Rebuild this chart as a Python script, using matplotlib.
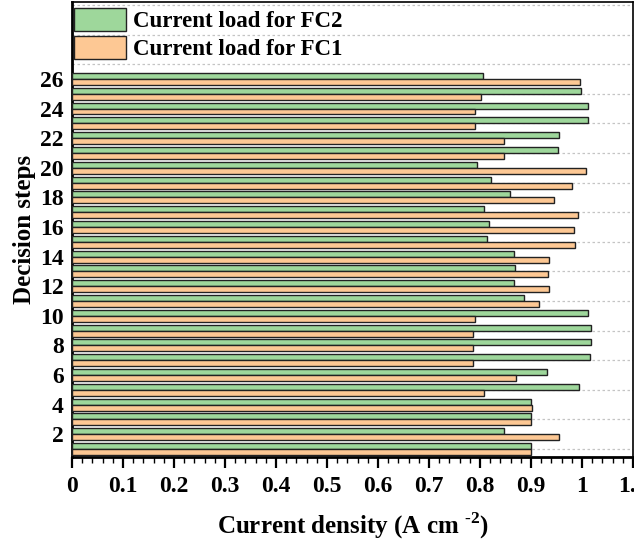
import matplotlib.pyplot as plt
import numpy as np

# decision steps 1..26 (bottom to top)
steps = np.arange(1, 27)
fc2_load = [0.900, 0.848, 0.900, 0.900, 0.995, 0.932, 1.015, 1.017, 1.017, 1.012,
            0.886, 0.866, 0.869, 0.866, 0.814, 0.818, 0.808, 0.858, 0.821, 0.794,
            0.953, 0.954, 1.012, 1.012, 0.999, 0.805]
fc1_load = [0.900, 0.954, 0.900, 0.902, 0.807, 0.870, 0.787, 0.786, 0.786, 0.790,
            0.916, 0.936, 0.934, 0.936, 0.987, 0.985, 0.993, 0.945, 0.981, 1.007,
            0.847, 0.847, 0.790, 0.790, 0.802, 0.996]
ytick_vals = np.arange(2, 27, 2)
xtick_vals = np.round(np.arange(0, 1.11, 0.1), 1)
xtick_labels = ["0", "0.1", "0.2", "0.3", "0.4", "0.5", "0.6", "0.7", "0.8", "0.9", "1", "1.1"]

plt.rcParams['font.family'] = 'Liberation Serif'
plt.rcParams['font.weight'] = 'bold'
plt.rcParams['mathtext.fontset'] = 'custom'
plt.rcParams['mathtext.rm'] = 'Liberation Serif:bold'
plt.rcParams['mathtext.bf'] = 'Liberation Serif:bold'

green = '#9ed79b'
orange = '#fdc894'

fig = plt.figure(figsize=(6.34, 5.42), dpi=100)
ax = fig.add_axes([0.1136, 0.1568, 0.8848, 0.8395])

h = 0.4
ax.barh(steps + h / 2, fc2_load, height=h, color=green, edgecolor='#222222',
        linewidth=1.0, label='Current load for FC2', zorder=3)
ax.barh(steps - h / 2, fc1_load, height=h, color=orange, edgecolor='#222222',
        linewidth=1.0, label='Current load for FC1', zorder=3)

# dashed gridlines at odd steps
for yg in range(1, 32, 2):
    ax.axhline(yg, color='#c4c4c4', linestyle=(0, (2, 2)), linewidth=0.9, zorder=1)

ax.set_xlim(0, 1.1)
ax.set_ylim(0.46, 31.2)

ax.set_xticks(xtick_vals)
ax.set_xticklabels(xtick_labels)
ax.set_xticks(np.arange(0, 1.101, 0.02), minor=True)
ax.set_yticks(ytick_vals)
ax.tick_params(axis='x', which='major', direction='out', length=8, width=1.6, labelsize=17, pad=6)
ax.tick_params(axis='x', which='minor', direction='out', length=4, width=1.0)
ax.tick_params(axis='y', which='both', length=0, labelsize=17, pad=6)

for s in ['left', 'bottom']:
    ax.spines[s].set_linewidth(2.0)
for s in ['top', 'right']:
    ax.spines[s].set_linewidth(1.2)

ax.set_xlabel(r'Current density (A cm $^{\text{-2}}$)', fontsize=18, fontweight='bold', labelpad=9)
ax.set_ylabel('Decision steps', fontsize=18, fontweight='bold', labelpad=3)

ax.legend(loc='upper left', bbox_to_anchor=(0.004, 0.987), frameon=False, fontsize=16.5,
          handlelength=2.27, handleheight=1.15, handletextpad=0.3, labelspacing=0.18,
          borderaxespad=0, borderpad=0)

fig.savefig('out.png', dpi=100)
